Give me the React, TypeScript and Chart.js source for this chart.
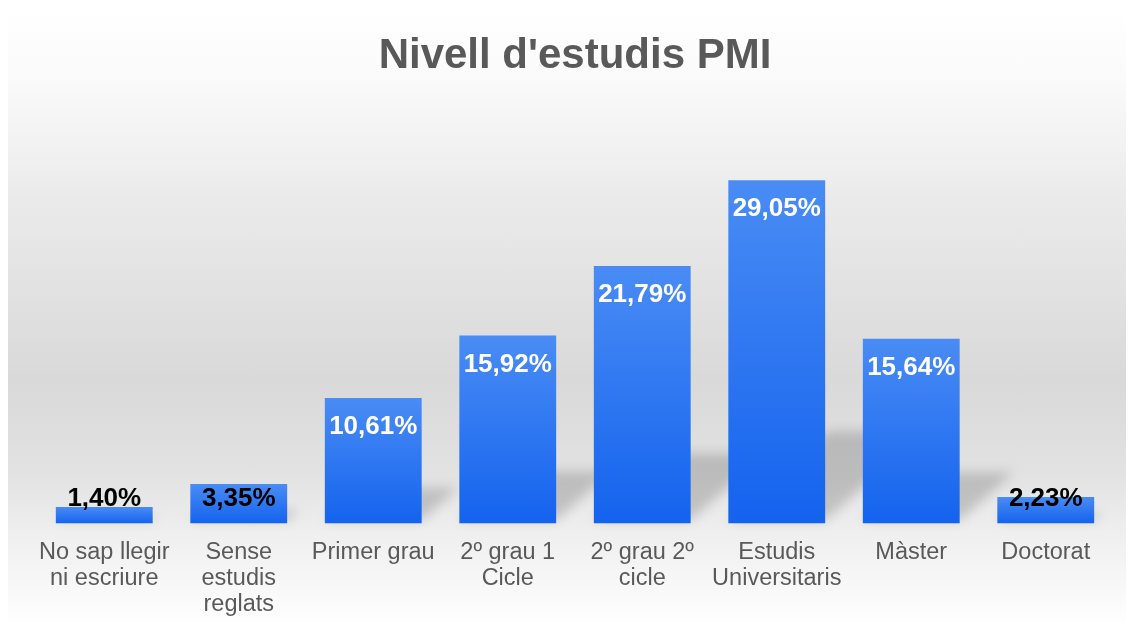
import React, { useEffect, useRef } from 'react';
import { Chart, registerables } from 'chart.js';

Chart.register(...registerables);

const titleText = "Nivell d'estudis PMI";
const categories: string[][] = [
  ['No sap llegir', 'ni escriure'],
  ['Sense', 'estudis', 'reglats'],
  ['Primer grau'],
  ['2º grau 1', 'Cicle'],
  ['2º grau 2º', 'cicle'],
  ['Estudis', 'Universitaris'],
  ['Màster'],
  ['Doctorat'],
];
const values: number[] = [1.4, 3.35, 10.61, 15.92, 21.79, 29.05, 15.64, 2.23];
const yMin = 0;
const yMax = 35;

const FONT = '"Liberation Sans", Arial, sans-serif';

const formatPct = (v: number) => v.toFixed(2).replace('.', ',') + '%';

const shadowPlugin = {
  id: 'barShadow',
  beforeDatasetsDraw(chart: any) {
    const ctx = chart.ctx;
    const meta = chart.getDatasetMeta(0);
    ctx.save();
    ctx.filter = 'blur(6px)';
    ctx.fillStyle = 'rgba(0,0,0,0.17)';
    meta.data.forEach((el: any) => {
      const { x, y, base, width } = el.getProps(['x', 'y', 'base', 'width'], true);
      const h = base - y;
      const x0 = x - width / 2;
      const x1 = x + width / 2;
      ctx.beginPath();
      ctx.moveTo(x0, base - 3);
      ctx.lineTo(x1, base - 3);
      ctx.lineTo(x1 + 0.29 * h, base - 3 - 0.26 * h);
      ctx.lineTo(x0 + 0.29 * h, base - 3 - 0.26 * h);
      ctx.closePath();
      ctx.fill();
    });
    ctx.restore();
  },
};

const labelPlugin = {
  id: 'barLabels',
  afterDatasetsDraw(chart: any) {
    const ctx = chart.ctx;
    const meta = chart.getDatasetMeta(0);
    ctx.save();
    ctx.font = `bold 26px ${FONT}`;
    ctx.textAlign = 'center';
    ctx.textBaseline = 'middle';
    meta.data.forEach((el: any, i: number) => {
      const { x, y, base } = el.getProps(['x', 'y', 'base'], true);
      const inside = y + 29;
      const limit = base - 25;
      const ly = Math.min(inside, limit);
      ctx.fillStyle = inside > limit ? '#000000' : '#ffffff';
      ctx.fillText(formatPct(values[i]), x, ly);
    });
    ctx.restore();
  },
};

export default function App() {
  const canvasRef = useRef<HTMLCanvasElement | null>(null);

  useEffect(() => {
    if (!canvasRef.current) return;
    const chart = new Chart(canvasRef.current, {
      type: 'bar',
      data: {
        labels: categories,
        datasets: [
          {
            data: values,
            backgroundColor: (c: any) => {
              const ch = c.chart;
              if (!ch.chartArea || c.dataIndex === undefined) return '#2f75f0';
              const ys = ch.scales.y;
              const top = ys.getPixelForValue(values[c.dataIndex]);
              const base = ys.getPixelForValue(0);
              const g = ch.ctx.createLinearGradient(0, top, 0, base);
              g.addColorStop(0, '#4a8cf5');
              g.addColorStop(1, '#1463ee');
              return g;
            },
            borderWidth: 0,
            barPercentage: 0.72,
            categoryPercentage: 1,
          },
        ],
      },
      options: {
        animation: false,
        responsive: true,
        maintainAspectRatio: false,
        layout: { padding: { left: 29, right: 15, top: 0, bottom: -5 } },
        plugins: {
          legend: { display: false },
          tooltip: { enabled: false },
          title: {
            display: true,
            text: titleText,
            color: '#595959',
            font: { family: FONT, size: 42, weight: 'bold', lineHeight: 1.2 },
            padding: { top: 23, bottom: 28.6 },
          },
        },
        scales: {
          x: {
            grid: { display: false, drawTicks: false },
            border: { display: false },
            ticks: {
              color: '#595959',
              font: { family: FONT, size: 23.5, lineHeight: 1.1 },
              padding: 16,
              maxRotation: 0,
              minRotation: 0,
              autoSkip: false,
            },
          },
          y: {
            display: false,
            min: yMin,
            max: yMax,
            grid: { display: false },
          },
        },
      },
      plugins: [shadowPlugin, labelPlugin],
    });
    return () => chart.destroy();
  }, []);

  return (
    <div
      style={{
        width: 1122,
        height: 621,
        margin: '-1px 0 0 -1px',
        boxSizing: 'border-box',
        borderTop: '1px solid #d0d0d0',
        borderLeft: '1px solid #d0d0d0',
        borderRight: '1px solid #d0d0d0',
        background:
          'linear-gradient(to bottom, #ffffff 0%, #fafafa 12%, #ebebeb 30%, #d9d9d9 60%, #e2e2e2 75%, #eeeeee 84%, #ffffff 100%)',
        overflow: 'hidden',
      }}
    >
      <div style={{ position: 'relative', width: 1120, height: 620 }}>
        <canvas ref={canvasRef} />
      </div>
    </div>
  );
}
